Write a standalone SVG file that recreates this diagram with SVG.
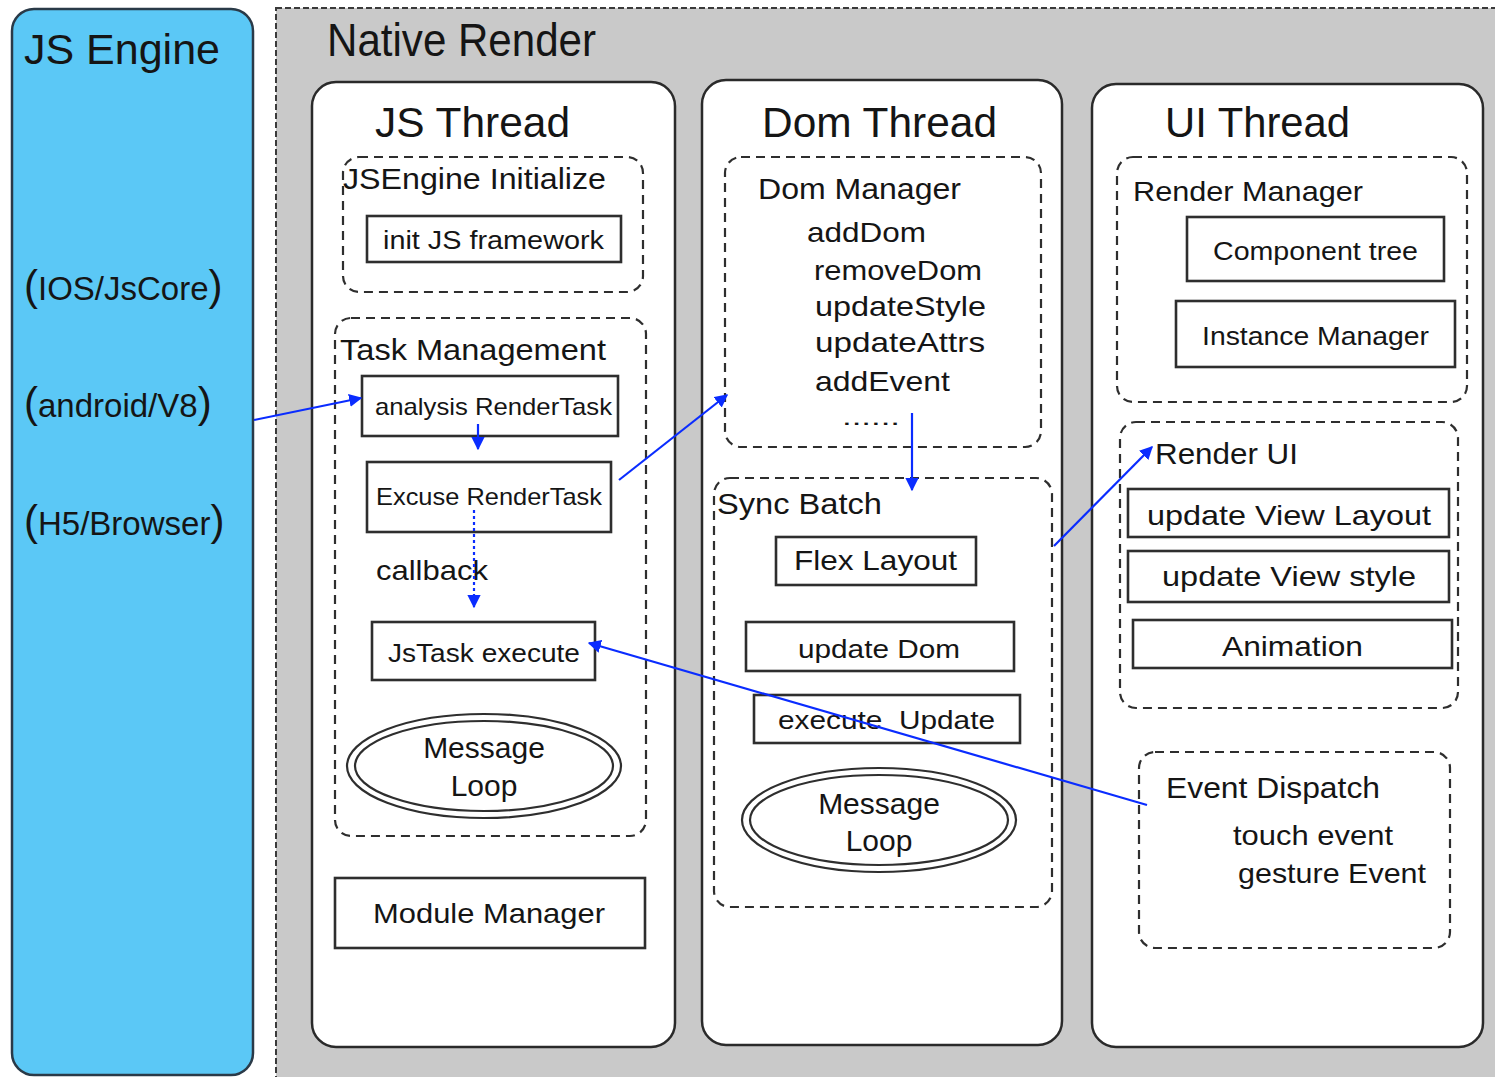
<svg xmlns="http://www.w3.org/2000/svg" width="1495" height="1077" viewBox="0 0 1495 1077">
  <style>
    text { font-family: "Liberation Sans", Arial, sans-serif; fill: #151515; }
    .panel { fill: #ffffff; stroke: #2a2a2a; stroke-width: 2.5; }
    .group { fill: none; stroke: #2e2e2e; stroke-width: 2.2; stroke-dasharray: 9 6; }
    .box { fill: #ffffff; stroke: #2e2e2e; stroke-width: 2.6; }
    .ring { fill: none; stroke: #2e2e2e; stroke-width: 2.2; }
    .link { fill: none; stroke: #0a2cff; stroke-width: 2.2; }
    .dotted { stroke-dasharray: 3 3; }
    .paren { font-size: 42px; }
    .t42 { font-size: 42px; }
    .t30 { font-size: 30px; }
    .t28 { font-size: 28px; }
    .t25 { font-size: 25px; }
  </style>
  <defs>
    <marker id="arrow" viewBox="0 0 10 10" refX="9" refY="5" markerWidth="6" markerHeight="6" orient="auto" markerUnits="strokeWidth">
      <path d="M0,0 L10,5 L0,10 z" fill="#0a2cff"/>
    </marker>
  </defs>

  <rect x="0" y="0" width="1495" height="1077" fill="#ffffff"/>

  <!-- JS engine column -->
  <g id="js-engine">
    <rect x="12" y="9" width="241" height="1066" rx="22" fill="#5bc8f6" stroke="#2a3a48" stroke-width="2.5"/>
    <text x="24" y="64" class="t42" textLength="196" lengthAdjust="spacingAndGlyphs">JS Engine</text>
    <text x="24" y="300" font-size="33"><tspan class="paren">(</tspan>IOS/JsCore<tspan class="paren">)</tspan></text>
    <text x="24" y="417" font-size="33"><tspan class="paren">(</tspan>android/V8<tspan class="paren">)</tspan></text>
    <text x="24" y="535" font-size="33"><tspan class="paren">(</tspan>H5/Browser<tspan class="paren">)</tspan></text>
  </g>

  <!-- native render area -->
  <g id="native-render">
    <rect x="276" y="8" width="1230" height="1080" fill="#c9c9c9" stroke="#3a3a3a" stroke-width="2" stroke-dasharray="6 3"/>
    <text x="327" y="56" font-size="46" textLength="269" lengthAdjust="spacingAndGlyphs">Native Render</text>
  </g>

  <!-- JS thread -->
  <g id="js-thread">
    <rect class="panel" x="312" y="82" width="363" height="965" rx="24"/>
    <text x="375" y="137" class="t42" textLength="195" lengthAdjust="spacingAndGlyphs">JS Thread</text>
  </g>
  <g id="jsengine-initialize">
    <rect class="group" x="343" y="157" width="300" height="135" rx="16"/>
    <text x="343" y="189" class="t30" textLength="263" lengthAdjust="spacingAndGlyphs">JSEngine Initialize</text>
  </g>
  <g id="init-js-framework">
    <rect class="box" x="367" y="216" width="254" height="46"/>
    <text x="383" y="249" class="t25" textLength="221" lengthAdjust="spacingAndGlyphs">init JS framework</text>
  </g>
  <g id="task-management">
    <rect class="group" x="335" y="318" width="311" height="518" rx="16"/>
    <text x="340" y="360" class="t30" textLength="266" lengthAdjust="spacingAndGlyphs">Task Management</text>
  </g>
  <g id="analysis-rendertask">
    <rect class="box" x="362" y="376" width="256" height="60"/>
    <text x="375" y="415" font-size="24" textLength="237" lengthAdjust="spacingAndGlyphs">analysis RenderTask</text>
  </g>
  <g id="excuse-rendertask">
    <rect class="box" x="367" y="462" width="244" height="70"/>
    <text x="376" y="505" font-size="24" textLength="226" lengthAdjust="spacingAndGlyphs">Excuse RenderTask</text>
  </g>
  <g id="callback-label">
    <text x="376" y="580" class="t28" textLength="112" lengthAdjust="spacingAndGlyphs">callback</text>
  </g>
  <g id="jstask-execute">
    <rect class="box" x="372" y="622" width="223" height="58"/>
    <text x="388" y="662" class="t25" textLength="192" lengthAdjust="spacingAndGlyphs">JsTask execute</text>
  </g>
  <g id="js-message-loop">
    <ellipse class="ring" cx="484" cy="766" rx="137" ry="52"/>
    <ellipse class="ring" cx="484" cy="766" rx="129" ry="45"/>
    <text x="484" y="758" class="t30" text-anchor="middle">Message</text>
    <text x="484" y="796" class="t30" text-anchor="middle">Loop</text>
  </g>
  <g id="module-manager">
    <rect class="box" x="335" y="878" width="310" height="70"/>
    <text x="373" y="923" class="t28" textLength="232" lengthAdjust="spacingAndGlyphs">Module Manager</text>
  </g>

  <!-- Dom thread -->
  <g id="dom-thread">
    <rect class="panel" x="702" y="80" width="360" height="965" rx="24"/>
    <text x="762" y="137" class="t42" textLength="235" lengthAdjust="spacingAndGlyphs">Dom Thread</text>
  </g>
  <g id="dom-manager">
    <rect class="group" x="725" y="157" width="316" height="290" rx="16"/>
    <text x="758" y="199" class="t30" textLength="203" lengthAdjust="spacingAndGlyphs">Dom Manager</text>
    <text x="807" y="242" class="t28" textLength="119" lengthAdjust="spacingAndGlyphs">addDom</text>
    <text x="814" y="280" class="t28" textLength="168" lengthAdjust="spacingAndGlyphs">removeDom</text>
    <text x="815" y="316" class="t28" textLength="171" lengthAdjust="spacingAndGlyphs">updateStyle</text>
    <text x="815" y="352" class="t28" textLength="170" lengthAdjust="spacingAndGlyphs">updateAttrs</text>
    <text x="815" y="391" class="t28" textLength="135" lengthAdjust="spacingAndGlyphs">addEvent</text>
    <text x="842" y="425" font-size="22" textLength="58" lengthAdjust="spacingAndGlyphs">......</text>
  </g>
  <g id="sync-batch">
    <rect class="group" x="714" y="478" width="338" height="429" rx="16"/>
    <text x="717" y="514" class="t30" textLength="165" lengthAdjust="spacingAndGlyphs">Sync Batch</text>
  </g>
  <g id="flex-layout">
    <rect class="box" x="776" y="537" width="200" height="48"/>
    <text x="794" y="570" class="t28" textLength="163" lengthAdjust="spacingAndGlyphs">Flex Layout</text>
  </g>
  <g id="update-dom">
    <rect class="box" x="746" y="622" width="268" height="49"/>
    <text x="798" y="658" class="t25" textLength="162" lengthAdjust="spacingAndGlyphs">update Dom</text>
  </g>
  <g id="execute-update">
    <rect class="box" x="754" y="695" width="266" height="48"/>
    <text x="778" y="729" class="t25" textLength="217" lengthAdjust="spacingAndGlyphs" xml:space="preserve">execute  Update</text>
  </g>
  <g id="dom-message-loop">
    <ellipse class="ring" cx="879" cy="820" rx="137" ry="52"/>
    <ellipse class="ring" cx="879" cy="820" rx="129" ry="45"/>
    <text x="879" y="814" class="t30" text-anchor="middle">Message</text>
    <text x="879" y="851" class="t30" text-anchor="middle">Loop</text>
  </g>

  <!-- UI thread -->
  <g id="ui-thread">
    <rect class="panel" x="1092" y="84" width="391" height="963" rx="24"/>
    <text x="1165" y="137" class="t42" textLength="185" lengthAdjust="spacingAndGlyphs">UI Thread</text>
  </g>
  <g id="render-manager">
    <rect class="group" x="1117" y="157" width="350" height="245" rx="16"/>
    <text x="1133" y="201" class="t28" textLength="230" lengthAdjust="spacingAndGlyphs">Render Manager</text>
  </g>
  <g id="component-tree">
    <rect class="box" x="1187" y="217" width="257" height="64"/>
    <text x="1213" y="260" class="t25" textLength="205" lengthAdjust="spacingAndGlyphs">Component tree</text>
  </g>
  <g id="instance-manager">
    <rect class="box" x="1176" y="301" width="279" height="66"/>
    <text x="1202" y="345" class="t25" textLength="227" lengthAdjust="spacingAndGlyphs">Instance Manager</text>
  </g>
  <g id="render-ui">
    <rect class="group" x="1120" y="422" width="338" height="286" rx="16"/>
    <text x="1155" y="464" class="t30" textLength="143" lengthAdjust="spacingAndGlyphs">Render UI</text>
  </g>
  <g id="update-view-layout">
    <rect class="box" x="1128" y="489" width="321" height="48"/>
    <text x="1147" y="525" class="t28" textLength="284" lengthAdjust="spacingAndGlyphs">update View Layout</text>
  </g>
  <g id="update-view-style">
    <rect class="box" x="1128" y="551" width="321" height="51"/>
    <text x="1162" y="586" class="t28" textLength="254" lengthAdjust="spacingAndGlyphs">update View style</text>
  </g>
  <g id="animation">
    <rect class="box" x="1133" y="620" width="319" height="48"/>
    <text x="1222" y="656" class="t28" textLength="141" lengthAdjust="spacingAndGlyphs">Animation</text>
  </g>
  <g id="event-dispatch">
    <rect class="group" x="1139" y="752" width="311" height="196" rx="16"/>
    <text x="1166" y="798" class="t30" textLength="214" lengthAdjust="spacingAndGlyphs">Event Dispatch</text>
    <text x="1233" y="845" class="t28" textLength="160" lengthAdjust="spacingAndGlyphs">touch event</text>
    <text x="1238" y="883" class="t28" textLength="188" lengthAdjust="spacingAndGlyphs">gesture Event</text>
  </g>

  <!-- connectors -->
  <g id="connectors">
    <line class="link" x1="254" y1="420" x2="361" y2="398" marker-end="url(#arrow)"/>
    <line class="link" x1="478" y1="424" x2="478" y2="449" marker-end="url(#arrow)"/>
    <line class="link dotted" x1="474" y1="510" x2="474" y2="607" marker-end="url(#arrow)"/>
    <line class="link" x1="619" y1="480" x2="727" y2="395" marker-end="url(#arrow)"/>
    <line class="link" x1="912" y1="413" x2="912" y2="490" marker-end="url(#arrow)"/>
    <line class="link" x1="1054" y1="546" x2="1152" y2="447" marker-end="url(#arrow)"/>
    <line class="link" x1="1147" y1="805" x2="589" y2="643" marker-end="url(#arrow)"/>
  </g>
</svg>
